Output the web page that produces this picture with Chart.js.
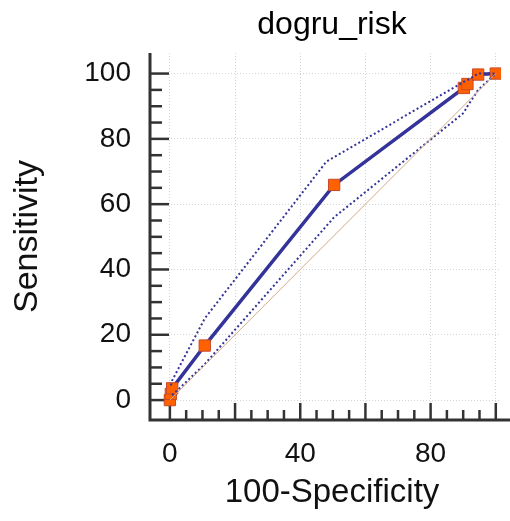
<!DOCTYPE html>
<html>
<head>
<meta charset="utf-8">
<script src="https://cdn.jsdelivr.net/npm/chart.js@4/dist/chart.umd.min.js"></script>
<style>
  body { margin: 0; background: #fff; }
  canvas { display: block; }
</style>
</head>
<body>
<canvas id="roc" width="510" height="521"></canvas>
<script>
// ROC curve points (100-Specificity, Sensitivity)
const rocX = [0, 0.3, 0.7, 10.7, 50.4, 90.2, 91.3, 94.6, 100];
const rocY = [0, 1.9, 3.6, 16.7, 65.9, 95.6, 96.8, 99.7, 100];

// confidence bounds
const upperX = [0.3, 0.7, 10.7, 48, 90.2, 91.3, 94.6, 100];
const upperY = [4.5, 6, 25, 73, 97.5, 98, 100, 100];
const lowerX = [0.7, 10.7, 50.4, 90.2, 91.3, 94.6, 100];
const lowerY = [1.5, 11, 56, 88, 90, 95, 100];

// reference diagonal
const diagX = [0, 100];
const diagY = [0, 100];

const gridValues = [0, 20, 40, 60, 80, 100];
const xLabels = [0, 40, 80];
const minorTicks = [0, 5, 10, 15, 20, 25, 30, 35, 40, 45, 50, 55, 60, 65, 70, 75, 80, 85, 90, 95, 100];
const chartTitle = 'dogru_risk';
const xTitle = '100-Specificity';

const FONT = "'Liberation Sans', Arial, sans-serif";
const BLUE = '#33339a';

function pts(xs, ys) {
    return xs.map((x, i) => ({ x: x, y: ys[i] }));
}

// axis lines + major/minor tick marks drawn from the scales, titles centred on the plot
const axisPlugin = {
    id: 'axisTicks',
    beforeDatasetsDraw(chart) {
        const { ctx, chartArea, scales } = chart;
        const xs = scales.x, ys = scales.y;
        ctx.save();
        ctx.strokeStyle = '#333';
        ctx.lineWidth = 3;
        ctx.beginPath();
        ctx.moveTo(chartArea.left, chartArea.top);
        ctx.lineTo(chartArea.left, chartArea.bottom);
        ctx.lineTo(chart.width, chartArea.bottom);
        ctx.stroke();

        ctx.lineWidth = 2.5;
        minorTicks.forEach(v => {
            const major = v % 20 === 0;
            const py = ys.getPixelForValue(v);
            ctx.beginPath();
            ctx.moveTo(chartArea.left, py);
            ctx.lineTo(chartArea.left + (major ? 19 : 12), py);
            ctx.stroke();
            const px = xs.getPixelForValue(v);
            ctx.beginPath();
            ctx.moveTo(px, chartArea.bottom);
            ctx.lineTo(px, chartArea.bottom - (major ? 17 : 10));
            ctx.stroke();
        });

        const cx = (chartArea.left + chart.width) / 2 + 2;
        ctx.fillStyle = '#000';
        ctx.textAlign = 'center';
        ctx.textBaseline = 'alphabetic';
        ctx.font = '32px ' + FONT;
        ctx.fillText(chartTitle, cx, 34);
        ctx.fillStyle = '#111';
        ctx.font = '33px ' + FONT;
        ctx.fillText(xTitle, cx, 502);
        ctx.restore();
    }
};

const ctx = document.getElementById('roc').getContext('2d');

new Chart(ctx, {
    type: 'scatter',
    data: {
        datasets: [
            {
                data: pts(diagX, diagY),
                showLine: true,
                borderColor: '#d2a98a',
                borderWidth: 1,
                pointRadius: 0
            },
            {
                data: pts(upperX, upperY),
                showLine: true,
                borderColor: BLUE,
                borderWidth: 2,
                borderDash: [2, 2.5],
                pointRadius: 0
            },
            {
                data: pts(lowerX, lowerY),
                showLine: true,
                borderColor: BLUE,
                borderWidth: 2,
                borderDash: [2, 2.5],
                pointRadius: 0
            },
            {
                data: pts(rocX, rocY),
                showLine: true,
                borderColor: BLUE,
                borderWidth: 3.5,
                pointStyle: 'rect',
                pointRadius: 8,
                pointBackgroundColor: '#ff6000',
                pointBorderColor: '#c84a2a',
                pointBorderWidth: 1
            }
        ]
    },
    options: {
        responsive: false,
        animation: false,
        layout: { padding: { top: 53, right: 0, left: 0, bottom: 0 } },
        plugins: {
            legend: { display: false },
            tooltip: { enabled: false },
            title: { display: false }
        },
        scales: {
            x: {
                type: 'linear',
                min: -6.1,
                max: 101.6,
                afterFit: s => {
                    s.height = 101;
                    s.paddingLeft = 0;
                    s.paddingRight = 0;
                },
                afterBuildTicks: s => { s.ticks = gridValues.map(v => ({ value: v })); },
                grid: { color: '#d4d4d4', lineWidth: 1, drawTicks: false },
                border: { display: false, dash: [1, 2] },
                ticks: {
                    padding: 17,
                    color: '#111',
                    font: { family: FONT, size: 28 },
                    maxRotation: 0,
                    autoSkip: false,
                    callback: v => xLabels.includes(v) ? String(v) : ''
                },
                title: { display: false }
            },
            y: {
                type: 'linear',
                min: -6.1,
                max: 106.3,
                afterFit: s => {
                    s.width = 150;
                    s.paddingTop = 0;
                    s.paddingBottom = 0;
                },
                afterBuildTicks: s => { s.ticks = gridValues.map(v => ({ value: v })); },
                grid: { color: '#d4d4d4', lineWidth: 1, drawTicks: false },
                border: { display: false, dash: [1, 2] },
                ticks: {
                    padding: 19,
                    color: '#111',
                    font: { family: FONT, size: 28 },
                    autoSkip: false
                },
                title: {
                    display: true,
                    text: 'Sensitivity',
                    color: '#111',
                    font: { family: FONT, size: 34 },
                    padding: { top: 7, bottom: 0 }
                }
            }
        }
    },
    plugins: [axisPlugin]
});
</script>
</body>
</html>
